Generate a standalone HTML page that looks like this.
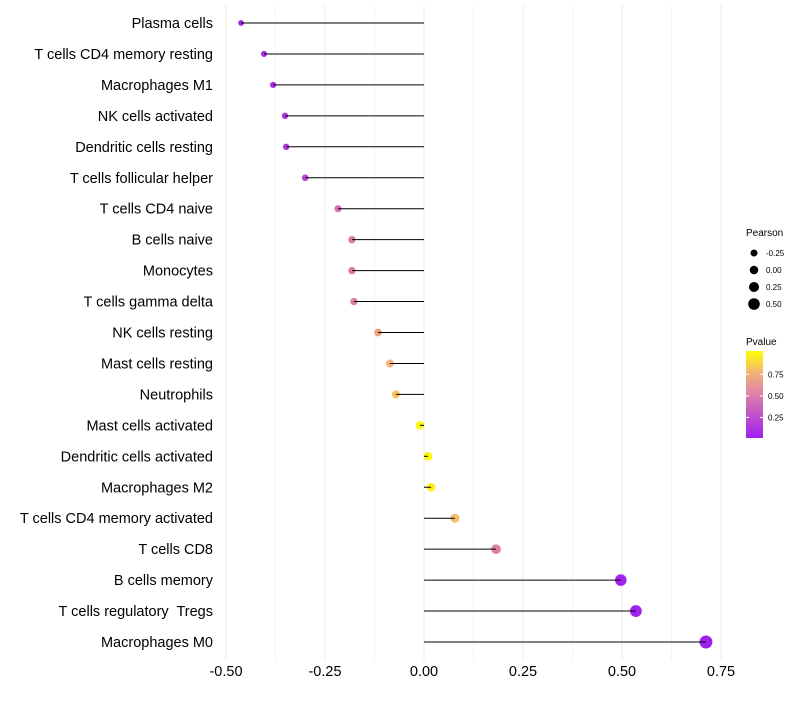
<!DOCTYPE html>
<html><head><meta charset="utf-8"><style>
body{margin:0;background:#fff;font-family:"Liberation Sans",sans-serif}
text{white-space:pre}
</style></head><body>
<svg id="chart" width="800" height="700" xmlns="http://www.w3.org/2000/svg" font-family="Liberation Sans, sans-serif">
<defs><linearGradient id="pg" x1="0" y1="1" x2="0" y2="0">
<stop offset="0" stop-color="#a020f0"/><stop offset="0.5" stop-color="#dd80a8"/><stop offset="0.75" stop-color="#f2b477"/><stop offset="1" stop-color="#ffff00"/></linearGradient></defs>
<g id="grid"></g><g id="dots"></g><g id="stems"></g><g id="labels"></g><g id="xaxis"></g>
<g id="legend">
<text x="746" y="236" font-size="10">Pearson</text>
<text x="746" y="345" font-size="10">Pvalue</text>
<rect x="746" y="351" width="17" height="87" fill="url(#pg)"/>
<g id="cbticks"></g>
</g>
</svg>
<script>
const categories=["Plasma cells","T cells CD4 memory resting","Macrophages M1","NK cells activated","Dendritic cells resting","T cells follicular helper","T cells CD4 naive","B cells naive","Monocytes","T cells gamma delta","NK cells resting","Mast cells resting","Neutrophils","Mast cells activated","Dendritic cells activated","Macrophages M2","T cells CD4 memory activated","T cells CD8","B cells memory","T cells regulatory  Tregs","Macrophages M0"];
const pearson=[-0.462,-0.404,-0.381,-0.351,-0.348,-0.30,-0.217,-0.182,-0.182,-0.177,-0.116,-0.086,-0.071,-0.01,0.01,0.018,0.078,0.182,0.497,0.535,0.712];
const pvalues=[0.02,0.05,0.08,0.12,0.12,0.22,0.42,0.48,0.48,0.5,0.68,0.75,0.8,0.97,0.97,0.94,0.78,0.5,0.02,0.01,0.0];
const xTicks=[-0.5,-0.25,0,0.25,0.5,0.75];
const xTickLabels=["-0.50","-0.25","0.00","0.25","0.50","0.75"];
const sizeBreaks=[-0.25,0,0.25,0.5];
const sizeLabels=["-0.25","0.00","0.25","0.50"];
const pBreaks=[0.25,0.5,0.75];
const pLabels=["0.25","0.50","0.75"];
const NS="http://www.w3.org/2000/svg";
const x=v=>424+v*396;
const y=i=>23+i*30.95;
const r=v=>4.27+3.07*v;
function col(p){const st=[[0,[160,32,240]],[0.5,[221,128,168]],[0.75,[242,180,119]],[1,[255,255,0]]];
for(let k=1;k<st.length;k++){if(p<=st[k][0]){const a=st[k-1],b=st[k];const t=(p-a[0])/(b[0]-a[0]);return `rgb(${a[1].map((c,j)=>Math.round(c+(b[1][j]-c)*t)).join(',')})`;}}return 'rgb(255,255,0)';}
function mk(tag,at,parent){const e=document.createElementNS(NS,tag);for(const k in at)e.setAttribute(k,at[k]);document.getElementById(parent).appendChild(e);return e;}
for(let v=-0.5;v<=0.76;v+=0.125){const g=mk('line',{x1:x(v),x2:x(v),y1:5,y2:660,stroke:'#ebebeb','stroke-width':Math.abs(v*4-Math.round(v*4))<0.01?1:0.6},'grid');

}
categories.forEach((c,i)=>{
const d=mk('circle',{cx:x(pearson[i]),cy:y(i),r:r(pearson[i]),fill:col(pvalues[i])},'dots');


const l=mk('line',{x1:x(0),x2:x(pearson[i]),y1:y(i),y2:y(i),stroke:'#000','stroke-width':1},'stems');


const t=mk('text',{x:213,y:y(i)+5,'text-anchor':'end','font-size':14.5,fill:'#000'},'labels');t.textContent=c;


});
xTicks.forEach((v,i)=>{const t=mk('text',{x:x(v),y:676,'text-anchor':'middle','font-size':14.5},'xaxis');t.textContent=xTickLabels[i];

});
sizeBreaks.forEach((v,i)=>{const cy=253+i*17;
const c=mk('circle',{cx:754,cy:cy,r:r(v),fill:'#000'},'legend');


const t=mk('text',{x:766,y:cy+3,'font-size':8},'legend');t.textContent=sizeLabels[i];

});
pBreaks.forEach((v,i)=>{const cy=438-(v-0.012)/1.008*87;
mk('line',{x1:746,x2:749,y1:cy,y2:cy,stroke:'#fff'},'cbticks');mk('line',{x1:760,x2:763,y1:cy,y2:cy,stroke:'#fff'},'cbticks');
const t=mk('text',{x:768,y:cy+3,'font-size':8},'cbticks');t.textContent=pLabels[i];

});
</script>
</body></html>
